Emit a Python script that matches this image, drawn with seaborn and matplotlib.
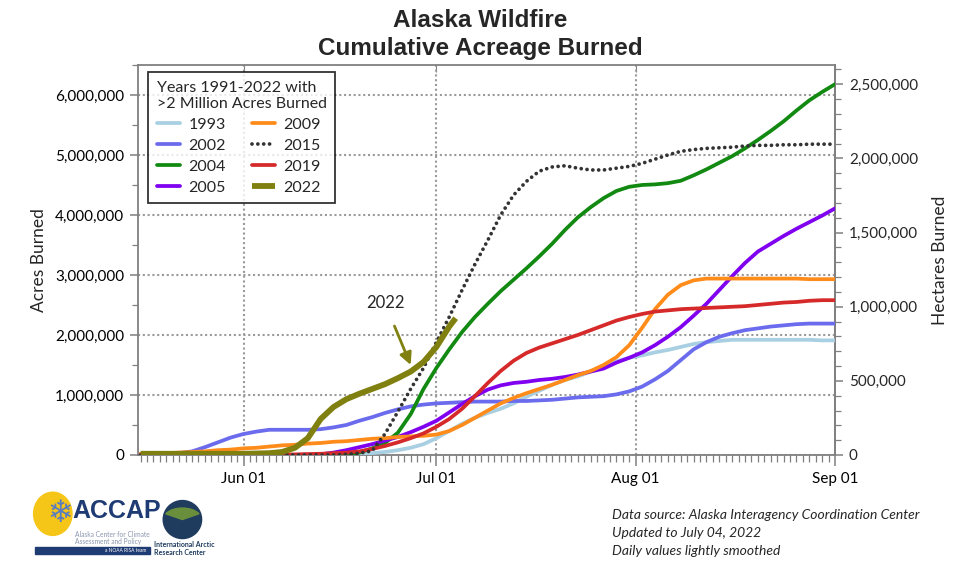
import matplotlib
matplotlib.use('Agg')
import pandas as pd
import matplotlib.pyplot as plt
import matplotlib.dates as mdates
import matplotlib.ticker as mticker
from matplotlib.patches import Ellipse, Rectangle, Wedge
import seaborn as sns

# cumulative acres burned (millions), read every 2 days from May 16 to Sep 01
dates = pd.date_range('2022-05-16', '2022-09-01', freq='2D')
acres_1993 = [0, 0, 0, 0, 0, 0, 0, 0, 0, 0, 0, 0, 0, 0,
              0.005, 0.01, 0.01, 0.02, 0.03, 0.05, 0.08, 0.12, 0.18, 0.28, 0.40, 0.52, 0.62, 0.70,
              0.77, 0.86, 0.97, 1.07, 1.17, 1.25, 1.31, 1.39, 1.48, 1.56, 1.62, 1.66, 1.71, 1.75,
              1.80, 1.85, 1.88, 1.90, 1.92, 1.92, 1.92, 1.92, 1.92, 1.92, 1.92, 1.91, 1.91]
acres_2002 = [0.02, 0.02, 0.02, 0.03, 0.06, 0.13, 0.21, 0.29, 0.35, 0.39, 0.42, 0.42, 0.42, 0.42,
              0.43, 0.46, 0.50, 0.57, 0.63, 0.70, 0.76, 0.81, 0.84, 0.86, 0.87, 0.88, 0.89, 0.89,
              0.89, 0.90, 0.90, 0.91, 0.92, 0.94, 0.96, 0.97, 0.98, 1.01, 1.06, 1.14, 1.26, 1.40,
              1.58, 1.76, 1.88, 1.97, 2.03, 2.08, 2.11, 2.14, 2.16, 2.18, 2.19, 2.19, 2.19]
acres_2004 = [0, 0, 0, 0, 0, 0, 0, 0, 0, 0, 0, 0, 0, 0,
              0, 0, 0.01, 0.04, 0.11, 0.20, 0.37, 0.68, 1.10, 1.45, 1.76, 2.05, 2.30, 2.52,
              2.73, 2.92, 3.11, 3.31, 3.52, 3.75, 3.96, 4.13, 4.28, 4.40, 4.47, 4.50, 4.51, 4.53,
              4.57, 4.66, 4.76, 4.87, 4.98, 5.11, 5.25, 5.40, 5.56, 5.74, 5.91, 6.05, 6.18]
acres_2005 = [0, 0, 0, 0, 0, 0, 0, 0, 0, 0, 0, 0, 0, 0.005,
              0.01, 0.04, 0.08, 0.13, 0.18, 0.24, 0.30, 0.38, 0.47, 0.57, 0.71, 0.85, 0.98, 1.09,
              1.16, 1.20, 1.22, 1.25, 1.27, 1.30, 1.34, 1.39, 1.44, 1.54, 1.62, 1.71, 1.83, 1.97,
              2.13, 2.32, 2.52, 2.75, 2.98, 3.20, 3.39, 3.52, 3.65, 3.77, 3.88, 3.99, 4.11]
acres_2009 = [0.02, 0.02, 0.03, 0.04, 0.05, 0.06, 0.08, 0.09, 0.11, 0.12, 0.14, 0.16, 0.17, 0.19,
              0.20, 0.22, 0.23, 0.25, 0.27, 0.28, 0.30, 0.31, 0.32, 0.34, 0.40, 0.50, 0.62, 0.74,
              0.86, 0.95, 1.03, 1.10, 1.17, 1.25, 1.33, 1.40, 1.50, 1.63, 1.83, 2.12, 2.43, 2.67,
              2.83, 2.91, 2.94, 2.94, 2.94, 2.94, 2.94, 2.94, 2.94, 2.94, 2.93, 2.93, 2.93]
acres_2015 = [0, 0, 0, 0, 0, 0, 0, 0, 0, 0, 0, 0, 0, 0,
              0, 0, 0.01, 0.03, 0.07, 0.35, 0.72, 1.10, 1.45, 1.88, 2.30, 2.75, 3.18, 3.58,
              4.00, 4.33, 4.56, 4.73, 4.80, 4.82, 4.78, 4.75, 4.75, 4.78, 4.81, 4.86, 4.93, 5.00,
              5.06, 5.09, 5.11, 5.12, 5.13, 5.15, 5.16, 5.16, 5.17, 5.17, 5.18, 5.18, 5.18]
acres_2019 = [0, 0, 0, 0, 0, 0, 0, 0, 0, 0, 0, 0.005, 0.01, 0.015,
              0.02, 0.03, 0.04, 0.06, 0.10, 0.15, 0.21, 0.28, 0.36, 0.47, 0.60, 0.77, 0.98, 1.20,
              1.40, 1.57, 1.70, 1.79, 1.86, 1.93, 2.00, 2.08, 2.16, 2.24, 2.30, 2.35, 2.39, 2.41,
              2.43, 2.44, 2.45, 2.46, 2.47, 2.48, 2.50, 2.52, 2.54, 2.55, 2.57, 2.58, 2.58]

# 2022 only runs to July 4
dates_2022 = pd.to_datetime(['2022-05-16', '2022-05-20', '2022-05-24', '2022-05-28', '2022-06-01',
                             '2022-06-05', '2022-06-07', '2022-06-09', '2022-06-11', '2022-06-13',
                             '2022-06-15', '2022-06-17', '2022-06-19', '2022-06-21', '2022-06-23',
                             '2022-06-25', '2022-06-27', '2022-06-29', '2022-07-01', '2022-07-03',
                             '2022-07-04'])
acres_2022 = [0.02, 0.02, 0.02, 0.02, 0.02, 0.03, 0.05, 0.12, 0.28, 0.60, 0.80, 0.93, 1.02, 1.10,
              1.18, 1.28, 1.39, 1.55, 1.80, 2.14, 2.28]

years = ['1993', '2002', '2004', '2005', '2009', '2015', '2019', '2022']
colors = ['#a8cfe2', '#6b6bee', '#128a12', '#8000f0', '#ff8c1a', '#333333', '#d62a2a', '#808010']
series = [acres_1993, acres_2002, acres_2004, acres_2005, acres_2009, acres_2015, acres_2019, acres_2022]

ACRE_TO_HA = 0.404686

sns.set_style('ticks')
plt.rcParams['font.family'] = ['Lato', 'DejaVu Sans']

fig = plt.figure(figsize=(9.6, 5.76), dpi=100)
ax = fig.add_axes([0.1437, 0.2101, 0.7261, 0.6771])

for yr, col, vals in zip(years, colors, series):
    x = dates_2022 if yr == '2022' else dates
    df = pd.DataFrame({'date': x, 'acres': [v * 1e6 for v in vals]})
    if yr == '2015':
        sns.lineplot(data=df, x='date', y='acres', ax=ax, color=col, lw=2.7, label=yr,
                     linestyle=(0, (0.01, 1.55)), dash_capstyle='round', sort=False, zorder=4)
    elif yr == '2022':
        sns.lineplot(data=df, x='date', y='acres', ax=ax, color=col, lw=4.2, label=yr,
                     sort=False, zorder=5, solid_capstyle='butt')
    else:
        sns.lineplot(data=df, x='date', y='acres', ax=ax, color=col, lw=2.7, label=yr,
                     sort=False, zorder=3)

ax.set_xlim(pd.Timestamp('2022-05-15 14:00'), pd.Timestamp('2022-09-01'))
ax.set_ylim(0, 6.5e6)

ax.xaxis.set_major_locator(mdates.MonthLocator(bymonthday=1))
ax.xaxis.set_major_formatter(mdates.DateFormatter('%b %d'))
ax.xaxis.set_minor_locator(mdates.DayLocator())
ax.yaxis.set_major_locator(mticker.MultipleLocator(1e6))
ax.yaxis.set_minor_locator(mticker.MultipleLocator(5e5))
ax.yaxis.set_major_formatter(mticker.StrMethodFormatter('{x:,.0f}'))

ax.grid(True, which='major', color='#9a9a9a', linestyle=(0, (1, 1.3)), lw=1.5)
ax.set_axisbelow(True)

for sp in ax.spines.values():
    sp.set_color('#808080')
    sp.set_linewidth(1.3)

ax.tick_params(which='major', length=8, width=1.1, color='#808080', labelsize=11,
               labelcolor='black', pad=4)
ax.tick_params(which='minor', length=5, width=0.9, color='#808080')
ax.tick_params(axis='y', which='major', length=6)
ax.tick_params(axis='y', which='minor', length=4)

ax.set_xlabel('')
ax.set_ylabel('Acres Burned', fontsize=12.5, labelpad=6)

top = ax.secondary_xaxis('top')
top.xaxis.set_major_locator(mdates.MonthLocator(bymonthday=1))
top.tick_params(direction='in', length=5, color='#808080', labeltop=False)
top.spines['top'].set_visible(False)

ha = ax.secondary_yaxis('right', functions=(lambda a: a * ACRE_TO_HA, lambda h: h / ACRE_TO_HA))
ha.yaxis.set_major_locator(mticker.MultipleLocator(5e5))
ha.yaxis.set_minor_locator(mticker.MultipleLocator(1e5))
ha.yaxis.set_major_formatter(mticker.StrMethodFormatter('{x:,.0f}'))
ha.tick_params(which='major', length=6, width=1.1, color='#808080', labelsize=11, pad=4)
ha.tick_params(which='minor', length=4, width=0.9, color='#808080')
ha.spines['right'].set_color('#808080')
ha.spines['right'].set_linewidth(1.3)
ha.set_ylabel('Hectares Burned', fontsize=12.5, labelpad=10)

leg = ax.legend(title='Years 1991-2022 with\n>2 Million Acres Burned', ncol=2, loc='upper left',
                bbox_to_anchor=(0.0143, 0.982), borderaxespad=0, fontsize=11.5,
                title_fontsize=11.5, frameon=True, fancybox=False, edgecolor='black',
                handlelength=1.45, handletextpad=0.55, columnspacing=1.6,
                labelspacing=0.42, borderpad=0.55, alignment='left')
leg.get_frame().set_linewidth(1.3)
leg.set_zorder(10)

ax.annotate('2022', xy=(pd.Timestamp('2022-06-27'), 1.5e6),
            xytext=(pd.Timestamp('2022-06-23'), 2.53e6), ha='center', va='center', fontsize=12,
            arrowprops=dict(arrowstyle='-|>,head_length=0.6,head_width=0.3', color='#808010',
                            lw=2, shrinkA=9, shrinkB=0))

fig.text(0.5, 0.964, 'Alaska Wildfire', ha='center', va='center', fontsize=17.5,
         fontweight='bold', family='Liberation Sans')
fig.text(0.5, 0.915, 'Cumulative Acreage Burned', ha='center', va='center', fontsize=17.5,
         fontweight='bold', family='Liberation Sans')

for i, line in enumerate(['Data source: Alaska Interagency Coordination Center',
                          'Updated to July 04, 2022', 'Daily values lightly smoothed']):
    fig.text(0.638, 0.106 - i * 0.0313, line, ha='left', va='center', fontsize=10,
             style='italic')

# rough stand-ins for the ACCAP / IARC logos
fig.patches.append(Ellipse((0.055, 0.108), 0.04, 0.075, transform=fig.transFigure,
                           color='#f5c518', zorder=1))
fig.text(0.063, 0.108, '\u2744', ha='center', va='center', fontsize=22, color='#5a7cc0',
         family='DejaVu Sans')
fig.text(0.075, 0.112, 'ACCAP', ha='left', va='center', fontsize=18, fontweight='bold',
         color='#1f3b73', family=['Liberation Sans Narrow', 'Liberation Sans'])
fig.text(0.078, 0.066, 'Alaska Center for Climate\nAssessment and Policy', ha='left',
         va='center', fontsize=4.8, color='#8a96ae', linespacing=1.15)
fig.patches.append(Rectangle((0.036, 0.039), 0.12, 0.011, transform=fig.transFigure,
                             color='#1f3b73'))
fig.text(0.152, 0.0445, 'a NOAA RISA team', ha='right', va='center', fontsize=3.5,
         color='white')
fig.patches.append(Ellipse((0.19, 0.098), 0.04, 0.066, transform=fig.transFigure,
                           color='#1f3b5e'))
fig.patches.append(Wedge((0.19, 0.098), 0.02, 30, 150, transform=fig.transFigure,
                         color='#6a8f3c'))
fig.text(0.16, 0.048, 'International Arctic\nResearch Center', ha='left', va='center',
         fontsize=5, color='#1f3b5e', fontweight='bold', linespacing=1.1)

fig.savefig('out.png', dpi=100)
